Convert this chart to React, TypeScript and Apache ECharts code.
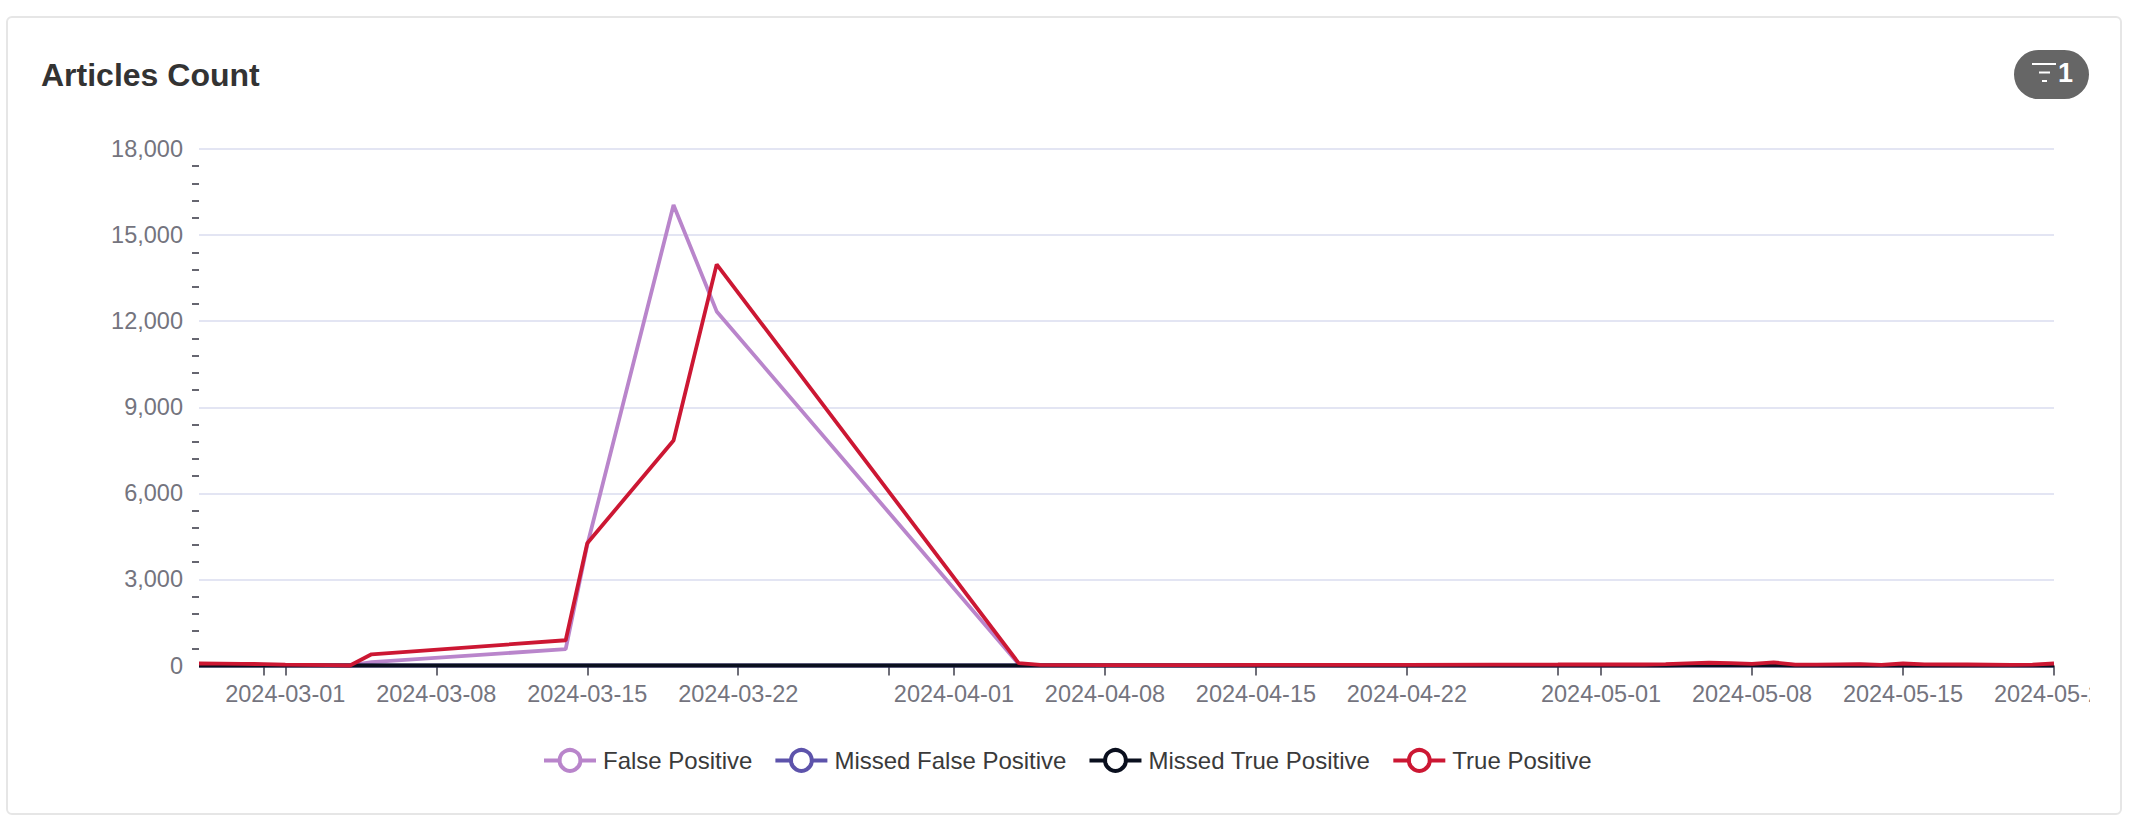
import React, { useEffect, useRef } from "react";
import * as echarts from "echarts";

const CHART_TITLE = "Articles Count";
const FILTER_COUNT = "1";
const Y_MAX = 18000;
const Y_STEP = 3000;
const AXIS_MIN = "2024-02-26";
const AXIS_MAX = "2024-05-22";

const tickDates = [
  "2024-02-29", "2024-03-01", "2024-03-08", "2024-03-15", "2024-03-22", "2024-03-29", "2024-04-01",
  "2024-04-08", "2024-04-15", "2024-04-22", "2024-04-29", "2024-05-01", "2024-05-08", "2024-05-15", "2024-05-22",
];
const labelDates = [
  "2024-03-01", "2024-03-08", "2024-03-15", "2024-03-22", "2024-04-01", "2024-04-08",
  "2024-04-15", "2024-04-22", "2024-05-01", "2024-05-08", "2024-05-15", "2024-05-22",
];

const dates = [
  "2024-02-26", "2024-02-27", "2024-02-28", "2024-02-29", "2024-03-01", "2024-03-02", "2024-03-03", "2024-03-04",
  "2024-03-05", "2024-03-14", "2024-03-15", "2024-03-19", "2024-03-21", "2024-04-04", "2024-04-05", "2024-04-08",
  "2024-04-12", "2024-04-15", "2024-04-19", "2024-04-22", "2024-04-26", "2024-04-29", "2024-05-01", "2024-05-03",
  "2024-05-04", "2024-05-05", "2024-05-06", "2024-05-07", "2024-05-08", "2024-05-09", "2024-05-10", "2024-05-11",
  "2024-05-12", "2024-05-13", "2024-05-14", "2024-05-15", "2024-05-16", "2024-05-18", "2024-05-20", "2024-05-21", "2024-05-22",
];

const falsePositive = [
  40, 35, 30, 25, 15, 10, 5, 0,
  120, 570, 4200, 16050, 12340, 50, 15, 10,
  8, 10, 12, 14, 16, 20, 25, 20,
  30, 50, 60, 50, 40, 60, 20, 20,
  25, 30, 15, 35, 25, 20, 15, 15, 40,
];
const missedFalsePositive = dates.map(() => 0);
const missedTruePositive = [
  0, 0, 0, 0, 0, 0, 0, 0,
  0, 0, 0, 0, 0, 0, 0, 0,
  0, 0, 0, 0, 0, 0, 0, 0,
  0, 10, 20, 10, 10, 20, 0, 0,
  0, 0, 0, 10, 0, 0, 0, 0, 0,
];
const truePositive = [
  70, 65, 55, 50, 30, 20, 10, 0,
  390, 880, 4260, 7840, 13980, 85, 25, 15,
  15, 20, 25, 25, 30, 35, 40, 35,
  50, 75, 95, 80, 60, 110, 30, 30,
  40, 45, 20, 70, 40, 35, 25, 30, 70,
];

const seriesNames = ["False Positive", "Missed False Positive", "Missed True Positive", "True Positive"];
const seriesColors = ["#b985cb", "#5d53ab", "#0a0f1e", "#cc1733"];
const seriesValues = [falsePositive, missedFalsePositive, missedTruePositive, truePositive];

const FONT = '"Liberation Sans", Arial, sans-serif';

const toTime = (d: string) => Date.parse(d + "T00:00:00Z");
const fmtDate = (v: number) => new Date(v).toISOString().slice(0, 10);

export default function App() {
  const ref = useRef<HTMLDivElement>(null);
  useEffect(() => {
    const chart = echarts.init(ref.current!, undefined, { renderer: "svg" });
    chart.setOption({
      animation: false,
      title: {
        text: CHART_TITLE,
        left: 41,
        top: 59,
        padding: 0,
        textStyle: { fontFamily: FONT, fontSize: 32, fontWeight: "bold", color: "#333333" },
      },
      legend: {
        left: 542,
        top: 748,
        itemWidth: 52,
        itemHeight: 26,
        itemGap: 21,
        padding: 0,
        data: seriesNames.map((name, i) => ({
          name,
          itemStyle: { color: "#ffffff", borderColor: seriesColors[i], borderWidth: 4 },
          lineStyle: { color: seriesColors[i], width: 4 },
        })),
        textStyle: { fontFamily: FONT, fontSize: 24, color: "#3a3a3a", padding: [0, 0, 0, 2] },
      },
      grid: { left: 199, top: 149, width: 1855, height: 516.5, containLabel: false, outerBoundsMode: "none" },
      xAxis: {
        type: "value",
        min: toTime(AXIS_MIN),
        max: toTime(AXIS_MAX),
        axisLine: { show: false },
        axisTick: {
          show: true,
          customValues: tickDates.map(toTime),
          length: 10,
          lineStyle: { color: "#6e6e78", width: 2 },
        },
        axisLabel: {
          customValues: labelDates.map(toTime),
          formatter: (v: number) => fmtDate(v),
          fontFamily: FONT,
          fontSize: 23.5,
          color: "#74747e",
          margin: 16,
          hideOverlap: false,
        },
        splitLine: { show: false },
      },
      yAxis: {
        type: "value",
        min: 0,
        max: Y_MAX,
        interval: Y_STEP,
        axisLine: { show: false },
        axisTick: { show: false },
        minorTick: { show: true, splitNumber: 5, length: 7, lineStyle: { color: "#666670", width: 2 } },
        axisLabel: { fontFamily: FONT, fontSize: 23.5, color: "#74747e", margin: 16 },
        splitLine: { show: true, lineStyle: { color: "#e3e5f3", width: 2 } },
      },
      series: seriesNames.map((name, i) => ({
        name,
        type: "line",
        symbol: "circle",
        showSymbol: false,
        clip: false,
        silent: true,
        itemStyle: { color: seriesColors[i] },
        lineStyle: { color: seriesColors[i], width: i === 2 ? 4.2 : 3.8 },
        data: dates.map((d, k) => [toTime(d), seriesValues[i][k]]),
      })),
      graphic: [
        { type: "rect", shape: { x: 2014, y: 50, width: 75, height: 49, r: 24.5 }, style: { fill: "#666666" } },
        { type: "rect", shape: { x: 2032, y: 63, width: 24, height: 2 }, style: { fill: "#ffffff" } },
        { type: "rect", shape: { x: 2039, y: 71.5, width: 11, height: 2 }, style: { fill: "#ffffff" } },
        { type: "rect", shape: { x: 2042, y: 80, width: 5, height: 2 }, style: { fill: "#ffffff" } },
        {
          type: "text",
          x: 2058,
          y: 59,
          style: { text: FILTER_COUNT, fill: "#ffffff", fontFamily: FONT, fontSize: 27, fontWeight: "bold" },
        },
      ],
    });
    return () => chart.dispose();
  }, []);
  return (
    <div style={{ position: "absolute", left: 0, top: 0, width: 2132, height: 832, background: "#ffffff", overflow: "hidden" }}>
      <div
        style={{
          position: "absolute",
          left: 6,
          top: 16,
          width: 2116,
          height: 799,
          boxSizing: "border-box",
          border: "2px solid #e6e6e6",
          borderRadius: 6,
        }}
      />
      <div ref={ref} style={{ position: "absolute", left: 0, top: 0, width: 2090, height: 832 }} />
    </div>
  );
}
